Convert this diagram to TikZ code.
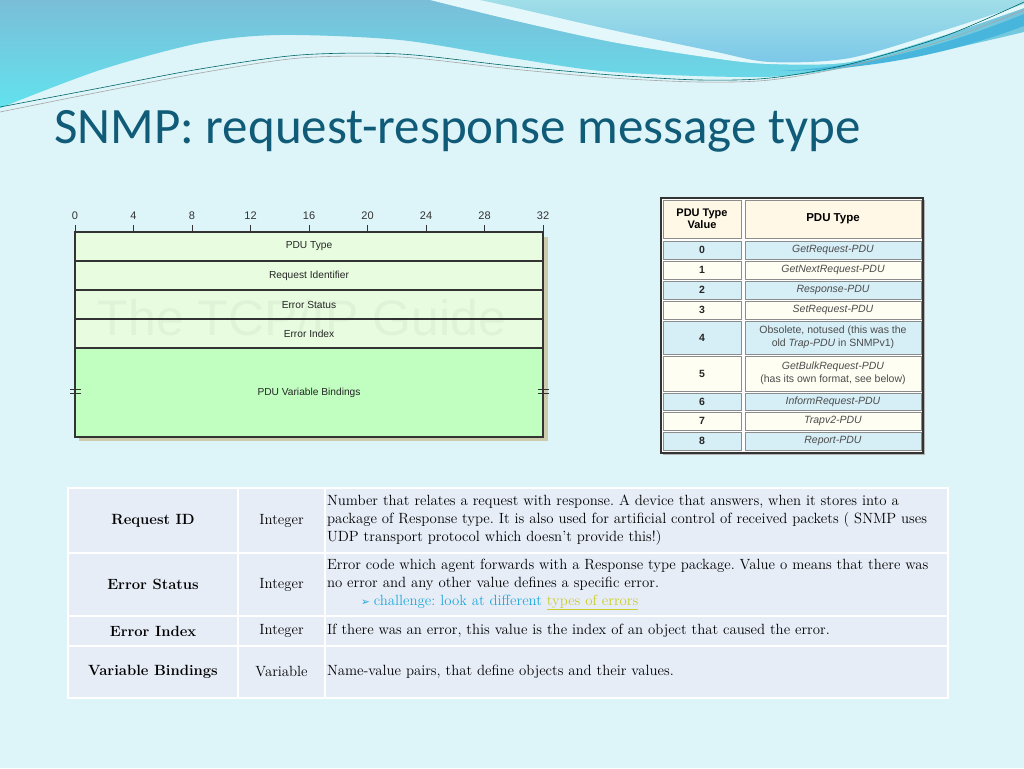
\documentclass[tikz,border=0pt]{standalone}
\usepackage{fontspec}
\usepackage{xcolor}
\usepackage{tikz}
\usetikzlibrary{positioning,calc}
\newfontfamily\titlefont{Carlito}
\newfontfamily\guidefont{Liberation Sans}
\newfontfamily\dingfont{DejaVu Sans}
\frenchspacing

\definecolor{slidebg}{RGB}{221,244,249}
\definecolor{wavetop}{RGB}{122,190,216}
\definecolor{wavelow}{RGB}{98,226,238}
\definecolor{waveup}{RGB}{160,222,232}
\definecolor{wavedown}{RGB}{124,200,232}
\definecolor{wavedark}{RGB}{72,182,220}
\definecolor{wavewhite}{RGB}{228,247,250}
\definecolor{titleblue}{RGB}{16,92,120}
\definecolor{rowgreen}{RGB}{232,252,224}
\definecolor{bindgreen}{RGB}{192,255,192}
\definecolor{boxshadow}{RGB}{204,204,172}
\definecolor{hdrcream}{RGB}{255,248,230}
\definecolor{rowblue}{RGB}{214,238,246}
\definecolor{rowcream}{RGB}{255,254,242}
\definecolor{cellblue}{RGB}{230,237,247}
\definecolor{hintblue}{RGB}{30,166,218}
\definecolor{linkyellow}{RGB}{204,204,40}

\begin{document}
\begin{tikzpicture}[x=1pt, y=-1pt,
    field/.style={draw=black!80, line width=1.2pt, fill=rowgreen, minimum width=468, minimum height=29, inner sep=0pt, font=\guidefont\fontsize{10.2}{12}\selectfont, text=black!85},
    bitlabel/.style={font=\guidefont\fontsize{11}{12}\selectfont, text=black!80, inner sep=0pt},
    typecell/.style={draw=black!45, line width=0.6pt, inner sep=0pt, align=center, font=\guidefont\fontsize{10.5}{12.5}\selectfont},
    infocell/.style={draw=white, line width=1.5pt, fill=cellblue, inner sep=0pt, font=\fontsize{14.8}{18}\selectfont}]

    \useasboundingbox (0,0) rectangle (1024,768);
    \fill[slidebg] (0,0) rectangle (1024,768);

    % header waves
    \shade[top color=wavetop, bottom color=wavelow] (0,0) -- (1024,0) -- plot[smooth] coordinates {(1024,32) (945,50) (845,68) (762,77) (612,72) (512,58) (400,40) (280,35) (200,43) (100,70) (0,108)} -- cycle;
    \fill[wavewhite] (430,0) -- plot[smooth] coordinates {(430,0) (512,20) (612,42) (712,58) (770,64) (850,62) (945,35) (1024,8)} -- (1024,0) -- cycle;
    \shade[top color=waveup, bottom color=wavedown] (480,0) -- plot[smooth] coordinates {(480,0) (512,7) (612,30) (712,51) (770,62) (850,58) (945,30) (1024,4)} -- (1024,0) -- cycle;
    \fill[wavedark] (780,71) .. controls (880,66) and (960,40) .. (1024,14) -- (1024,26) .. controls (960,50) and (880,70) .. (780,71) -- cycle;
    \draw[teal!80!black, line width=0.6pt] plot[smooth] coordinates {(0,107) (100,88) (200,69) (300,55) (400,54) (512,66) (612,75) (700,80) (770,78) (850,64) (945,36) (1024,2)};
    \draw[gray!70, line width=0.6pt] plot[smooth] coordinates {(0,112) (100,92) (200,73) (300,58) (400,57) (512,69) (612,78) (700,82) (770,80) (850,66) (945,40) (1024,10)};

    % title
    \node[anchor=base west, inner sep=0pt, font=\titlefont\fontsize{51}{52}\selectfont, text=titleblue] (title) at (54,143) {SNMP: request-response message type};

    % PDU format
    \fill[boxshadow] (79,237) rectangle (548,441);
    \node[field] (ptype) at (309,246.5) {PDU Type};
    \node[field] (reqid) at (309,275.5) {Request Identifier};
    \node[field] (errst) at (309,304.5) {Error Status};
    \node[field] (errix) at (309,333.5) {Error Index};
    \node[field, fill=bindgreen, minimum height=89] (binds) at (309,392.5) {PDU Variable Bindings};
    \node[font=\guidefont\fontsize{50}{50}\selectfont, text=black, opacity=0.035, inner sep=0pt] (watermark) at (302,318) {The TCP/IP Guide};
    \foreach \b in {0,4,...,32} {
        \node[bitlabel] (bit\b) at ({75+14.625*\b},216) {\b};
        \draw[black!80, line width=1pt] ({75+14.625*\b},225) -- ++(0,7);
    }
    \foreach \y in {389.5,393.5} {
        \draw[black!80, line width=1pt] (70,\y) -- (81,\y);
        \draw[black!80, line width=1pt] (538,\y) -- (549,\y);
    }

    % PDU type table
    \fill[gray!60] (663,200) rectangle (925,455);
    \draw[black!80, line width=2pt, fill=white] (661,198) rectangle (923,453);
    \node[typecell, fill=hdrcream, minimum width=78, minimum height=38, font=\guidefont\bfseries\fontsize{11}{11.5}\selectfont] (hvalue) at (702,219) {PDU Type\\Value};
    \node[typecell, fill=hdrcream, minimum width=176, minimum height=38, font=\guidefont\bfseries\fontsize{11.5}{12}\selectfont] (htype) at (833,219) {PDU Type};
    \foreach \v/\ya/\yb/\txt/\fc in {
        0/240/260/{\textit{GetRequest-PDU}}/rowblue,
        1/260/280/{\textit{GetNextRequest-PDU}}/rowcream,
        2/280/300/{\textit{Response-PDU}}/rowblue,
        3/300/320/{\textit{SetRequest-PDU}}/rowcream,
        4/320/355/{Obsolete, notused (this was the\\old \textit{Trap-PDU} in SNMPv1)}/rowblue,
        5/355/392/{\textit{GetBulkRequest-PDU}\\(has its own format, see below)}/rowcream,
        6/392/411/{\textit{InformRequest-PDU}}/rowblue,
        7/411/431/{\textit{Trapv2-PDU}}/rowcream,
        8/431/451/{\textit{Report-PDU}}/rowblue} {
        \node[typecell, fill=\fc, minimum width=78, minimum height={\yb-\ya-2}, font=\guidefont\bfseries\fontsize{10.5}{12}\selectfont, text=black!85] (val\v) at (702,{(\ya+\yb)/2}) {\v};
        \node[typecell, fill=\fc, minimum width=176, minimum height={\yb-\ya-2}, text=black!70] (typ\v) at (833,{(\ya+\yb)/2}) {\txt};
    }

    % field table
    \foreach \ya/\yb/\fname/\fkind/\fdesc [count=\r] in {
        488/553/Request ID/Integer/{Number that relates a request with response. A device that answers, when it stores into a\\package of Response type. It is also used for artificial control of received packets ( SNMP uses\\UDP transport protocol which doesn't provide this!)},
        553/616/Error Status/Integer/{Error code which agent forwards with a Response type package. Value o means that there was\\no error and any other value defines a specific error.\\\hspace*{34pt}{\dingfont\fontsize{10.5}{10}\selectfont\textcolor{hintblue}{➢}}\hspace{4pt}\textcolor{hintblue}{challenge: look at different} \textcolor{linkyellow}{\underline{types of errors}}},
        616/646/Error Index/Integer/{If there was an error, this value is the index of an object that caused the error.},
        646/698/Variable Bindings/Variable/{Name-value pairs, that define objects and their values.}} {
        \node[infocell, minimum width=170, minimum height={\yb-\ya}, font=\bfseries\fontsize{14.8}{18}\selectfont] (fname\r) at (153,{(\ya+\yb)/2}) {\fname};
        \node[infocell, minimum width=87, minimum height={\yb-\ya}] (fkind\r) at (281.5,{(\ya+\yb)/2}) {\fkind};
        \node[infocell, minimum width=623, minimum height={\yb-\ya}, text width=619, inner xsep=2pt, align=left] (fdesc\r) at (636.5,{(\ya+\yb)/2}) {\fdesc};
    }
\end{tikzpicture}
\end{document}
